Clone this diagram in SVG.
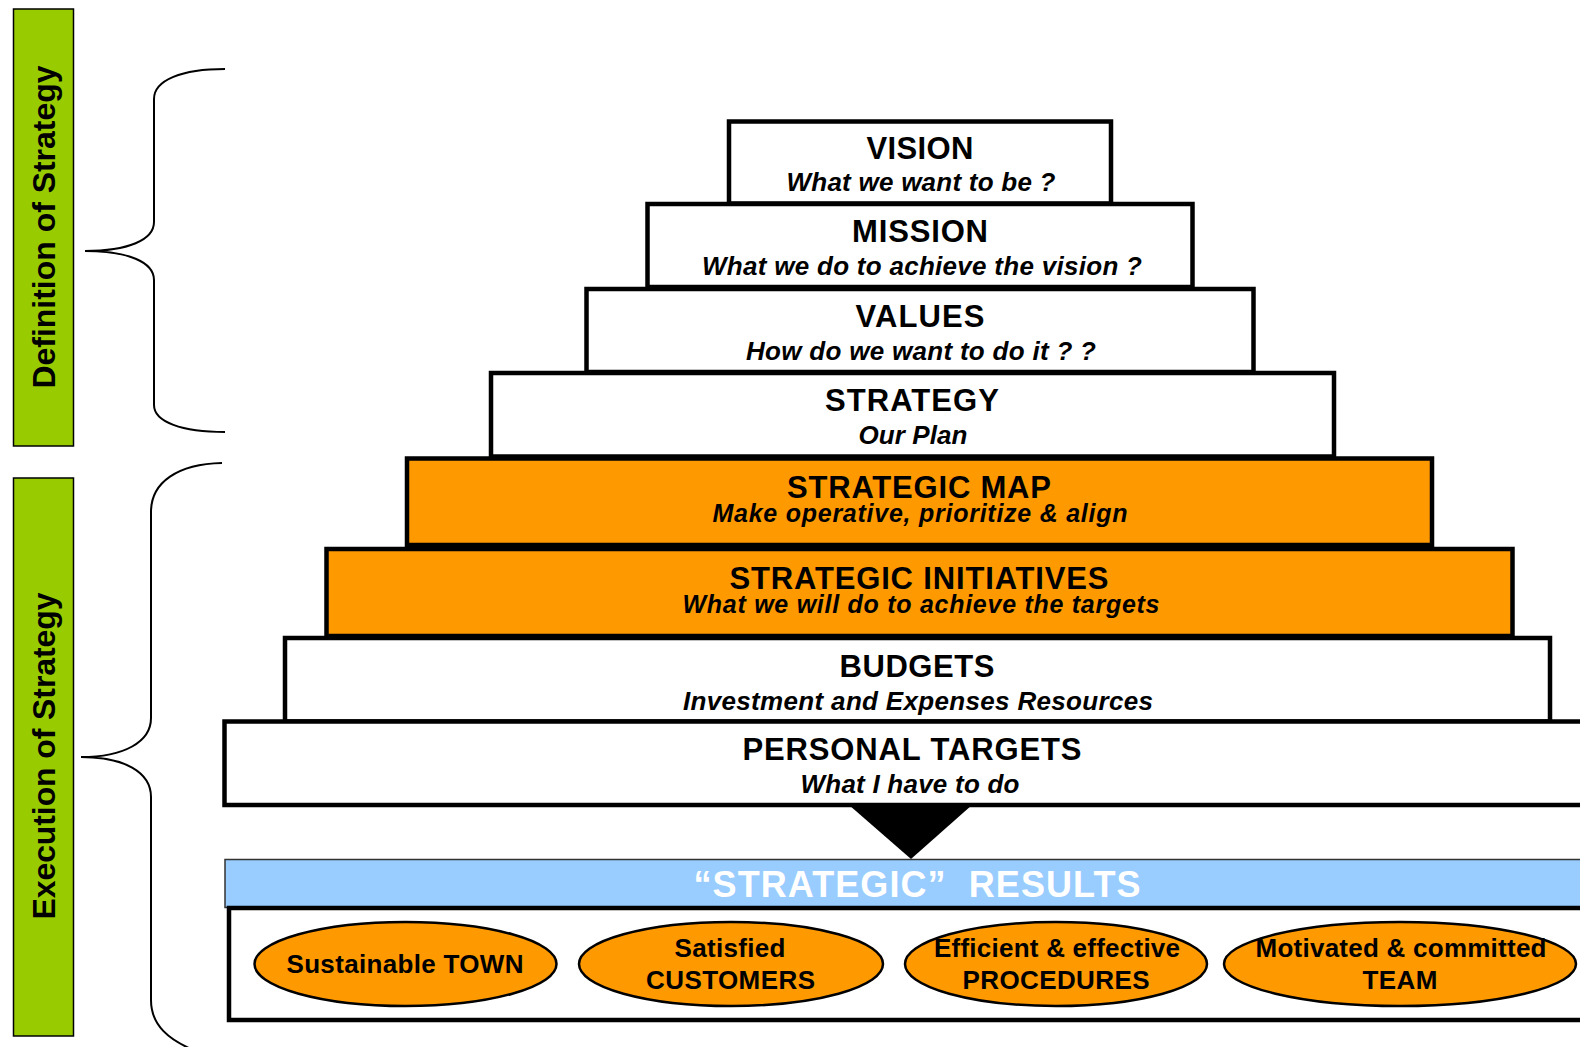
<svg xmlns="http://www.w3.org/2000/svg" width="1580" height="1047" viewBox="0 0 1580 1047">
  <defs>
    <style>
      .lvl { fill: #FFFFFF; stroke: #000000; stroke-width: 4.5; }
      .hot { fill: #FF9900; stroke: #000000; stroke-width: 4.5; }
      .band { fill: #99CC00; stroke: #000000; stroke-width: 1.5; }
      .brace { fill: none; stroke: #000000; stroke-width: 2; }
      .goal { fill: #FF9900; stroke: #000000; stroke-width: 2.5; }
      text { font-family: "Liberation Sans", Arial, Helvetica, sans-serif; fill: #000000; text-anchor: middle; }
      .ttl { font-size: 31px; font-weight: bold; }
      .sub { font-size: 26px; font-weight: bold; font-style: italic; }
      .sub2 { font-size: 25px; font-weight: bold; font-style: italic; }
      .side { font-size: 32px; font-weight: bold; }
      .res { font-size: 36px; font-weight: bold; fill: #FFFFFF; white-space: pre; }
      .gt { font-size: 26px; font-weight: bold; }
    </style>
  </defs>

  <rect width="1580" height="1047" fill="#FFFFFF"/>

  <!-- side labels -->
  <g id="definition-band">
    <rect class="band" x="13.5" y="9" width="60" height="437"/>
    <text class="side" transform="translate(55,227) rotate(-90)" textLength="323">Definition of Strategy</text>
  </g>
  <g id="execution-band">
    <rect class="band" x="13.5" y="478" width="60" height="558"/>
    <text class="side" transform="translate(55,756) rotate(-90)" textLength="327">Execution of Strategy</text>
  </g>

  <!-- connectors: braces and the arrow head into the results -->
  <g id="connectors">
    <path class="brace" d="M225,69 C182,69 154,80 154,99 L154,222 C154,240 128,251 85,251 C128,251 154,262 154,280 L154,405 C154,422 182,432 225,432"/>
    <path class="brace" d="M222,463 C178,464 151,482 151,512 L151,718 C151,742 124,757 81,757 C124,757 151,772 151,797 L151,1000 C151,1025 168,1040 198,1052"/>
    <polygon points="849,805 972,805 911,859" fill="#000000"/>
  </g>

  <!-- pyramid levels -->
  <g id="vision">
    <rect class="lvl" x="729" y="121.5" width="382" height="82"/>
    <text class="ttl" x="920" y="159" textLength="107">VISION</text>
    <text class="sub" x="921" y="191" textLength="269">What we want to be ?</text>
  </g>
  <g id="mission">
    <rect class="lvl" x="647.5" y="204" width="545" height="83"/>
    <text class="ttl" x="920" y="242" textLength="136">MISSION</text>
    <text class="sub" x="922" y="275" textLength="440">What we do to achieve the vision ?</text>
  </g>
  <g id="values">
    <rect class="lvl" x="586.5" y="289" width="667" height="83"/>
    <text class="ttl" x="920" y="327" textLength="129">VALUES</text>
    <text class="sub" x="921" y="360" textLength="350">How do we want to do it ? ?</text>
  </g>
  <g id="strategy">
    <rect class="lvl" x="491" y="373" width="843" height="83.5"/>
    <text class="ttl" x="912" y="411" textLength="174">STRATEGY</text>
    <text class="sub" x="913" y="444" textLength="109">Our Plan</text>
  </g>
  <g id="strategic-map">
    <rect class="hot" x="407" y="458.5" width="1025" height="86.5"/>
    <text class="ttl" x="919" y="498" textLength="264">STRATEGIC MAP</text>
    <text class="sub2" x="920" y="522" textLength="415">Make operative, prioritize &amp; align</text>
  </g>
  <g id="strategic-initiatives">
    <rect class="hot" x="326.5" y="549" width="1186" height="87"/>
    <text class="ttl" x="919" y="589" textLength="379">STRATEGIC INITIATIVES</text>
    <text class="sub2" x="921" y="613" textLength="477">What we will do to achieve the targets</text>
  </g>
  <g id="budgets">
    <rect class="lvl" x="285" y="638" width="1265" height="83.5"/>
    <text class="ttl" x="917" y="677" textLength="155">BUDGETS</text>
    <text class="sub" x="918" y="710" textLength="470">Investment and Expenses Resources</text>
  </g>
  <g id="personal-targets">
    <rect class="lvl" x="224.5" y="721.5" width="1380" height="83.5"/>
    <text class="ttl" x="912" y="760" textLength="339">PERSONAL TARGETS</text>
    <text class="sub" x="910" y="793" textLength="219">What I have to do</text>
  </g>

  <!-- results -->
  <g id="results-header">
    <rect x="225" y="859.5" width="1380" height="48" fill="#99CCFF" stroke="#333333" stroke-width="1.5"/>
    <text class="res" x="917" y="897" textLength="447" xml:space="preserve">“STRATEGIC”  RESULTS</text>
  </g>
  <g id="results-panel">
    <rect class="lvl" x="229" y="908" width="1380" height="112"/>
  </g>
  <g id="sustainable-town">
    <ellipse class="goal" cx="405.5" cy="964" rx="151" ry="42"/>
    <text class="gt" x="405" y="973" textLength="237">Sustainable TOWN</text>
  </g>
  <g id="satisfied-customers">
    <ellipse class="goal" cx="731" cy="964" rx="152" ry="42"/>
    <text class="gt" x="730" y="957" textLength="111">Satisfied</text>
    <text class="gt" x="730.5" y="989" textLength="169">CUSTOMERS</text>
  </g>
  <g id="efficient-procedures">
    <ellipse class="goal" cx="1056" cy="964" rx="151" ry="42"/>
    <text class="gt" x="1057" y="957" textLength="246">Efficient &amp; effective</text>
    <text class="gt" x="1056" y="989" textLength="187">PROCEDURES</text>
  </g>
  <g id="motivated-team">
    <ellipse class="goal" cx="1400" cy="964" rx="176" ry="42"/>
    <text class="gt" x="1401" y="957" textLength="291">Motivated &amp; committed</text>
    <text class="gt" x="1400" y="989" textLength="75">TEAM</text>
  </g>
</svg>
